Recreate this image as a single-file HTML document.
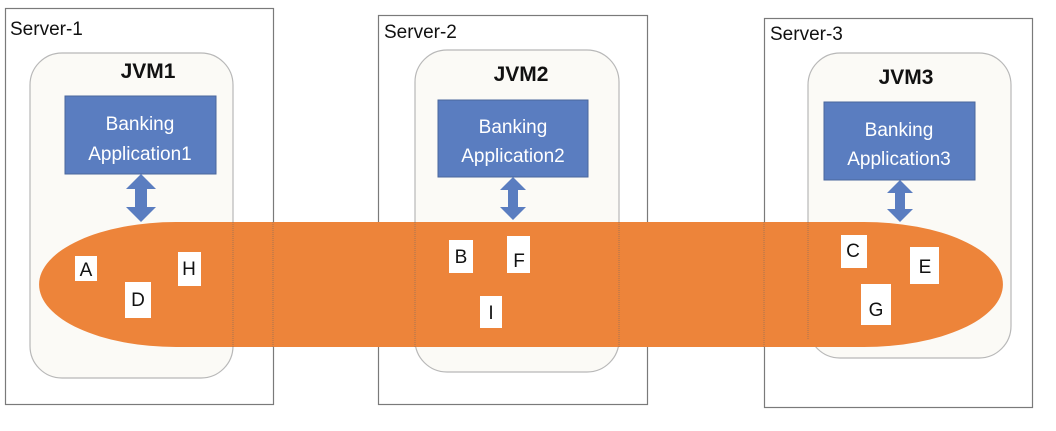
<!DOCTYPE html>
<html><head><meta charset="utf-8"><style>
body{margin:0;background:#fff;width:1056px;height:426px;overflow:hidden}
</style></head><body>
<svg width="1056" height="426" xmlns="http://www.w3.org/2000/svg" font-family="Liberation Sans, sans-serif">
<rect x="0" y="0" width="1056" height="426" fill="#fff"/>
<g fill="#fff" stroke="#7a7a7a" stroke-width="1.2">
<rect x="5.5" y="8.5" width="268" height="396"/>
<rect x="378.5" y="15.5" width="269" height="389"/>
<rect x="764.5" y="18.5" width="268" height="389"/>
</g>
<g font-size="19" fill="#111">
<text x="10" y="35">Server-1</text>
<text x="384" y="38">Server-2</text>
<text x="770" y="40">Server-3</text>
</g>
<g fill="#fbfaf6" stroke="#b8b8b8" stroke-width="1.2">
<rect x="30" y="53" width="203" height="325" rx="32"/>
<rect x="415" y="50" width="204" height="322" rx="32"/>
<rect x="808" y="53" width="203" height="305" rx="32"/>
</g>
<g font-size="21" font-weight="bold" fill="#111" text-anchor="middle">
<text x="148" y="78">JVM1</text>
<text x="521" y="81">JVM2</text>
<text x="906" y="84">JVM3</text>
</g>
<g fill="#5a7dc0" stroke="#4a679c">
<rect x="65" y="96" width="151" height="78"/>
<rect x="438" y="100" width="150" height="77"/>
<rect x="824" y="102" width="151" height="78"/>
</g>
<g font-size="19" fill="#fff" text-anchor="middle">
<text x="140" y="130">Banking</text><text x="140" y="160">Application1</text>
<text x="513" y="133">Banking</text><text x="513" y="162">Application2</text>
<text x="899" y="136">Banking</text><text x="899" y="165">Application3</text>
</g>
<g fill="#5a7dc0">
<path d="M141 174 L156 189 L147 189 L147 207 L156 207 L141 222 L126 207 L135 207 L135 189 L126 189 Z"/>
<path d="M513 177 L526 190 L518 190 L518 207 L526 207 L513 220 L500 207 L508 207 L508 190 L500 190 Z"/>
<path d="M900 180 L913 193 L905 193 L905 209 L913 209 L900 222 L887 209 L895 209 L895 193 L887 193 Z"/>
</g>
<path d="M176 222 L864 222 A139 62.5 0 0 1 864 347 L176 347 A137 62.5 0 0 1 176 222 Z" fill="#ed843a"/>
<g fill="none" stroke="#7a6a60" stroke-width="0.6" stroke-dasharray="1 1">
<line x1="233" y1="222" x2="233" y2="347"/>
<line x1="273" y1="222" x2="273" y2="347"/>
<line x1="415" y1="222" x2="415" y2="347"/>
<line x1="619" y1="222" x2="619" y2="347"/>
<line x1="808" y1="222" x2="808" y2="340"/>
<line x1="764" y1="222" x2="764" y2="347"/>
</g>
<g fill="#fff">
<rect x="75" y="256" width="22" height="25"/>
<rect x="125" y="282" width="26" height="36"/>
<rect x="178" y="252" width="23" height="34"/>
<rect x="449" y="240" width="24" height="33"/>
<rect x="507" y="236" width="23" height="37"/>
<rect x="480" y="296" width="22" height="32"/>
<rect x="841" y="235" width="26" height="33"/>
<rect x="910" y="247" width="29" height="37"/>
<rect x="861" y="284" width="30" height="41"/>
</g>
<g font-size="19" fill="#111" text-anchor="middle">
<text x="86" y="276">A</text>
<text x="138" y="306">D</text>
<text x="189" y="275">H</text>
<text x="461" y="263">B</text>
<text x="519" y="267">F</text>
<text x="491" y="319">I</text>
<text x="853" y="257">C</text>
<text x="925" y="273">E</text>
<text x="876" y="316">G</text>
</g>
</svg>
</body></html>
